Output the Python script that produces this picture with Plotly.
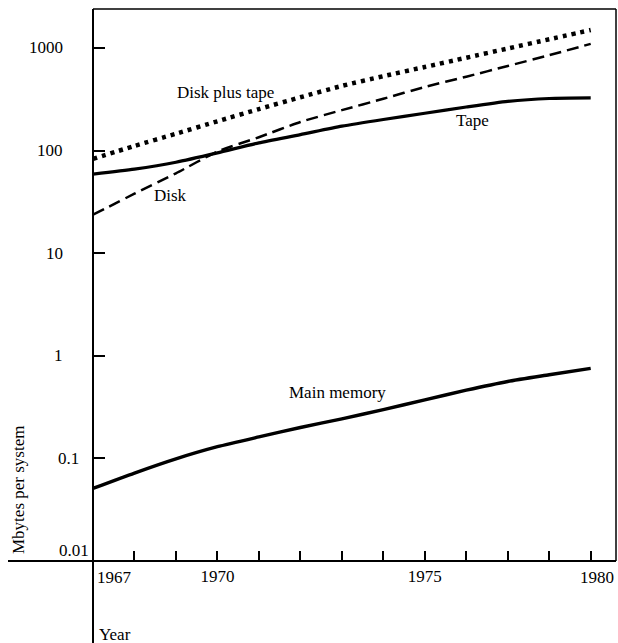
import math
import plotly.graph_objects as go

# ---------------- data ----------------
years = [1967, 1968, 1969, 1970, 1971, 1972, 1973, 1974, 1975, 1976, 1977, 1978, 1979]
disk_plus_tape = [83, 111, 146, 193, 254, 331, 427, 531, 653, 804, 989, 1216, 1496]
disk = [23.7, 38, 60, 98, 135, 190, 248, 320, 417, 525, 668, 851, 1096]
tape = [59, 66, 77, 95, 119, 143, 173, 201, 231, 266, 302, 322, 326]
main_memory = [0.051, 0.072, 0.099, 0.130, 0.162, 0.200, 0.243, 0.299, 0.372, 0.462, 0.562, 0.653, 0.755]

x_tick_years = [1968, 1969, 1970, 1971, 1972, 1973, 1974, 1975, 1976, 1977, 1978, 1979]
x_tick_text = ["", "", "1970", "", "", "", "", "1975", "", "", "", ""]
x_edge_labels = ["1967", "1980"]
y_tick_values = [1000, 100, 10, 1, 0.1]
y_label_values = [1000, 100, 10, 1, 0.1, 0.01]
y_label_text = ["1000", "100", "10", "1", "0.1", "0.01"]

# ---------------- styling ----------------
W, H = 618, 643
L, R, T, B = 93, 2, 9, 82
PW, PH = W - L - R, H - T - B
FONT = "Liberation Serif, Times New Roman, serif"
FS = 17
INK = "black"


def px_x(px):
    return (px - L) / PW


def px_y(py):
    return (H - B - py) / PH


fig = go.Figure()

fig.add_trace(go.Scatter(x=years, y=disk_plus_tape, mode="lines", name="Disk plus tape",
                         line=dict(color=INK, width=4.5, dash="4px,5px", shape="spline", smoothing=0.6)))
fig.add_trace(go.Scatter(x=years, y=disk, mode="lines", name="Disk",
                         line=dict(color=INK, width=2.5, dash="12px,6px", shape="spline", smoothing=0.6)))
fig.add_trace(go.Scatter(x=years, y=tape, mode="lines", name="Tape",
                         line=dict(color=INK, width=3.2, shape="spline", smoothing=0.6)))
fig.add_trace(go.Scatter(x=years, y=main_memory, mode="lines", name="Main memory",
                         line=dict(color=INK, width=3.4, shape="spline", smoothing=0.6)))

annotations = []
# curve labels
curve_labels = [
    ("Disk plus tape", 225, 92),
    ("Disk", 170, 195),
    ("Tape", 472, 120),
    ("Main memory", 337, 392),
]
for text, cx, cy in curve_labels:
    annotations.append(dict(text=text, xref="paper", yref="paper", x=px_x(cx), y=px_y(cy),
                            xanchor="center", yanchor="middle", showarrow=False,
                            font=dict(family=FONT, size=FS, color=INK)))

# y tick labels
right_edges = [65, 65, 65, 65, 81, 91]
yshifts = [0, 0, 0, 0, 0, 11]
for v, t, re_, ys in zip(y_label_values, y_label_text, right_edges, yshifts):
    annotations.append(dict(text=t, xref="paper", yref="y", x=px_x(re_), y=math.log10(v),
                            xanchor="right", yanchor="middle", yshift=ys, showarrow=False,
                            font=dict(family=FONT, size=FS, color=INK)))

# x edge labels
annotations.append(dict(text=x_edge_labels[0], xref="paper", yref="paper", x=px_x(95), y=px_y(577),
                        xanchor="left", yanchor="middle", showarrow=False,
                        font=dict(family=FONT, size=FS, color=INK)))
annotations.append(dict(text=x_edge_labels[1], xref="paper", yref="paper", x=px_x(616), y=px_y(577),
                        xanchor="right", yanchor="middle", showarrow=False,
                        font=dict(family=FONT, size=FS, color=INK)))
# axis titles
annotations.append(dict(text="Year", xref="paper", yref="paper", x=px_x(97), y=px_y(634),
                        xanchor="left", yanchor="middle", showarrow=False,
                        font=dict(family=FONT, size=FS, color=INK)))
annotations.append(dict(text="Mbytes per system", xref="paper", yref="paper", x=px_x(18), y=px_y(490),
                        xanchor="center", yanchor="middle", textangle=-90, showarrow=False,
                        font=dict(family=FONT, size=FS, color=INK)))

shapes = [
    # x axis line, extending left beyond the y axis
    dict(type="line", xref="paper", yref="paper", x0=px_x(8), x1=1, y0=0, y1=0,
         line=dict(color=INK, width=2)),
    # y axis line, extending down below the x axis
    dict(type="line", xref="paper", yref="paper", x0=0, x1=0, y0=px_y(643), y1=1,
         line=dict(color=INK, width=2)),
    # top border
    dict(type="line", xref="paper", yref="paper", x0=0, x1=1, y0=1, y1=1,
         line=dict(color=INK, width=1.5)),
    # right border
    dict(type="line", xref="paper", yref="paper", x0=1, x1=1, y0=0, y1=1,
         line=dict(color=INK, width=1.5)),
]

fig.update_layout(
    width=W, height=H,
    margin=dict(l=L, r=R, t=T, b=B, pad=0),
    paper_bgcolor="white", plot_bgcolor="white",
    showlegend=False,
    font=dict(family=FONT, size=FS, color=INK),
    annotations=annotations,
    shapes=shapes,
    xaxis=dict(range=[1967, 1979.61], showline=False, showgrid=False, zeroline=False,
               tickmode="array", tickvals=x_tick_years, ticktext=x_tick_text,
               ticks="inside", ticklen=10, tickwidth=1.5, tickcolor=INK,
               tickfont=dict(family=FONT, size=FS, color=INK), ticklabelstandoff=3),
    yaxis=dict(type="log", range=[-2, 3.38], showline=False, showgrid=False, zeroline=False,
               tickmode="array", tickvals=y_tick_values, showticklabels=False,
               ticks="inside", ticklen=12, tickwidth=1.5, tickcolor=INK),
)

fig.write_html(
    "out.html",
    config={"displayModeBar": False},
    post_script="document.body.style.margin='0';document.body.style.padding='0';"
                "document.documentElement.style.overflow='hidden';",
)
